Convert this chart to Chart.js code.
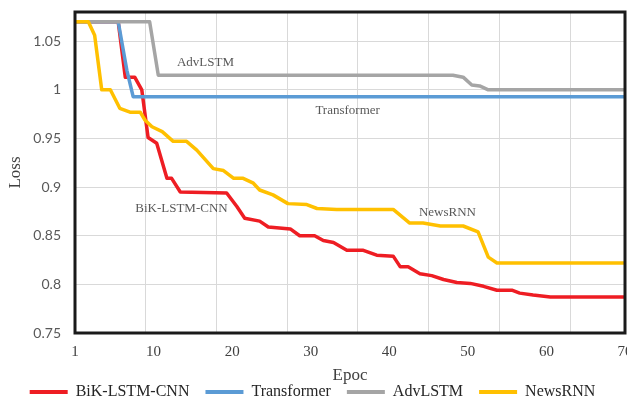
<!DOCTYPE html>
<html>
<head>
<meta charset="utf-8">
<script src="https://cdn.jsdelivr.net/npm/chart.js@4.4.1/dist/chart.umd.min.js"></script>
<style>
  html, body { margin: 0; padding: 0; background: #fff; }
  canvas { display: block; }
</style>
</head>
<body>
<canvas id="chart" width="627" height="400"></canvas>
<script>
// loss curves (x = epoch position on the axis, label "1" sits at 0)
const bikEpochs = [0, 5.5, 6.4, 7.6, 8.5, 9.3, 10.4, 11.7, 12.3, 13.4, 19.3, 20.6, 21.6, 23.5, 24.6, 27.4, 28.6, 30.5, 31.6, 32.9, 34.6, 36.7, 38.4, 40.5, 41.4, 42.4, 43.9, 45.4, 46.9, 48.6, 50.3, 52, 53.7, 55.6, 56.6, 58.3, 60.5, 70];
const bikLoss   = [1.07, 1.07, 1.013, 1.013, 1.0, 0.951, 0.945, 0.909, 0.909, 0.895, 0.894, 0.880, 0.868, 0.865, 0.859, 0.857, 0.850, 0.850, 0.845, 0.843, 0.835, 0.835, 0.830, 0.829, 0.818, 0.818, 0.811, 0.809, 0.805, 0.802, 0.801, 0.798, 0.794, 0.794, 0.791, 0.789, 0.787, 0.787];

const transEpochs = [0, 5.5, 6.6, 7.4, 70];
const transLoss   = [1.07, 1.07, 1.02, 0.993, 0.993];

const advEpochs = [0, 9.5, 10.6, 48.1, 49.4, 50.5, 51.5, 52.6, 70];
const advLoss   = [1.07, 1.07, 1.015, 1.015, 1.013, 1.005, 1.004, 1.0, 1.0];

const newsEpochs = [0, 1.7, 2.5, 3.4, 4.5, 5.7, 7.0, 8.3, 8.9, 9.8, 11.1, 12.5, 14.2, 15.5, 17.6, 18.9, 20.2, 21.4, 22.7, 23.5, 25.2, 27.1, 29.5, 30.8, 33.3, 40.5, 42.6, 44.3, 46.5, 49.4, 51.3, 52.6, 53.7, 70];
const newsLoss   = [1.07, 1.07, 1.056, 1.0, 1.0, 0.981, 0.977, 0.977, 0.969, 0.962, 0.957, 0.947, 0.947, 0.938, 0.919, 0.917, 0.909, 0.909, 0.904, 0.897, 0.892, 0.883, 0.882, 0.878, 0.877, 0.877, 0.863, 0.863, 0.860, 0.860, 0.854, 0.828, 0.822, 0.822];

const xTickValues = [0, 10, 20, 30, 40, 50, 60, 70];
const xTickLabels = ['1', '10', '20', '30', '40', '50', '60', '70'];
const xGridValues = [0, 9, 18, 27, 36, 45, 54, 63];
const yTickValues = [0.75, 0.8, 0.85, 0.9, 0.95, 1, 1.05];

// in-plot labels next to the curves
const noteText  = ['AdvLSTM', 'Transformer', 'BiK-LSTM-CNN', 'NewsRNN'];
const noteEpoch = [16.6, 34.7, 13.55, 47.4];
const noteLoss  = [1.028, 0.979, 0.878, 0.874];

const SERIF = 'Liberation Serif';
const GRID = '#d9d9d9';

const pts = (xs, ys) => xs.map((x, i) => ({ x, y: ys[i] }));

const series = [
  { label: 'BiK-LSTM-CNN', data: pts(bikEpochs, bikLoss), color: '#ee1d23' },
  { label: 'Transformer', data: pts(transEpochs, transLoss), color: '#5b9bd5' },
  { label: 'AdvLSTM', data: pts(advEpochs, advLoss), color: '#a5a5a5' },
  { label: 'NewsRNN', data: pts(newsEpochs, newsLoss), color: '#ffc000' },
];

// later series sit on top, like the original
const datasets = series.map((s, i) => ({
  label: s.label, data: s.data,
  borderColor: s.color, backgroundColor: s.color,
  borderWidth: 3.5, pointRadius: 0, tension: 0,
  borderJoinStyle: 'round', borderCapStyle: 'round',
  order: series.length - i,
  xAxisID: 'x', yAxisID: 'y',
}));

const notesPlugin = {
  id: 'notes',
  afterDatasetsDraw(chart) {
    const { ctx, scales: { x, y } } = chart;
    ctx.save();
    ctx.font = `13px "${SERIF}"`;
    ctx.fillStyle = '#595959';
    ctx.textAlign = 'center';
    ctx.textBaseline = 'middle';
    noteText.forEach((t, i) => ctx.fillText(t, x.getPixelForValue(noteEpoch[i]), y.getPixelForValue(noteLoss[i])));
    ctx.restore();
  }
};

const framePlugin = {
  id: 'frame',
  afterDraw(chart) {
    const { ctx, chartArea: a } = chart;
    ctx.save();
    ctx.strokeStyle = '#1a1a1a';
    ctx.lineWidth = 3;
    ctx.strokeRect(a.left, a.top, a.width, a.height);
    ctx.restore();
  }
};

new Chart(document.getElementById('chart'), {
  type: 'line',
  data: { datasets },
  plugins: [notesPlugin, framePlugin],
  options: {
    responsive: false, animation: false, devicePixelRatio: 1,
    layout: { padding: { top: 12, right: 2, bottom: -10, left: 0 } },
    scales: {
      x: {
        type: 'linear', min: 0, max: 70, position: 'bottom',
        afterBuildTicks: ax => { ax.ticks = xGridValues.map(v => ({ value: v })); },
        ticks: { display: false },
        grid: { color: GRID, drawTicks: false },
        border: { display: false },
        afterFit: ax => { ax.height = 0; ax.paddingLeft = 0; ax.paddingRight = 0; }
      },
      x2: {
        type: 'linear', min: 0, max: 70, position: 'bottom', weight: 1,
        afterBuildTicks: ax => { ax.ticks = xTickValues.map(v => ({ value: v })); },
        ticks: {
          autoSkip: false, maxRotation: 0, padding: 10, color: '#404040',
          font: { family: SERIF, size: 15 },
          callback: (v, i) => xTickLabels[i]
        },
        grid: { display: false, drawTicks: false },
        border: { display: false },
        title: { display: true, text: 'Epoc', color: '#404040', font: { family: SERIF, size: 17 }, padding: { top: 0, bottom: -18 } },
        afterFit: ax => { ax.height = 35; ax.paddingLeft = 0; ax.paddingRight = 0; }
      },
      y: {
        type: 'linear', min: 0.75, max: 1.08,
        afterBuildTicks: ax => { ax.ticks = yTickValues.map(v => ({ value: v })); },
        ticks: { padding: 14, color: '#595959', font: { family: 'Lato', size: 14 }, callback: v => String(v) },
        grid: { color: GRID, drawTicks: false },
        border: { display: false },
        title: { display: true, text: 'Loss', color: '#404040', font: { family: SERIF, size: 17 }, padding: { top: 5, bottom: 0 } },
        afterFit: ax => { ax.width = 75; ax.paddingTop = 0; ax.paddingBottom = 0; }
      }
    },
    plugins: {
      tooltip: { enabled: false },
      legend: {
        position: 'bottom',
        labels: {
          boxWidth: 38, boxHeight: 4, padding: 16, color: '#262626',
          font: { family: SERIF, size: 16 },
          generateLabels: chart => Chart.defaults.plugins.legend.labels.generateLabels(chart)
            .sort((a, b) => a.datasetIndex - b.datasetIndex)
            .map(l => ({ ...l, fillStyle: l.strokeStyle, lineWidth: 0 }))
        }
      }
    }
  }
});
</script>
</body>
</html>
